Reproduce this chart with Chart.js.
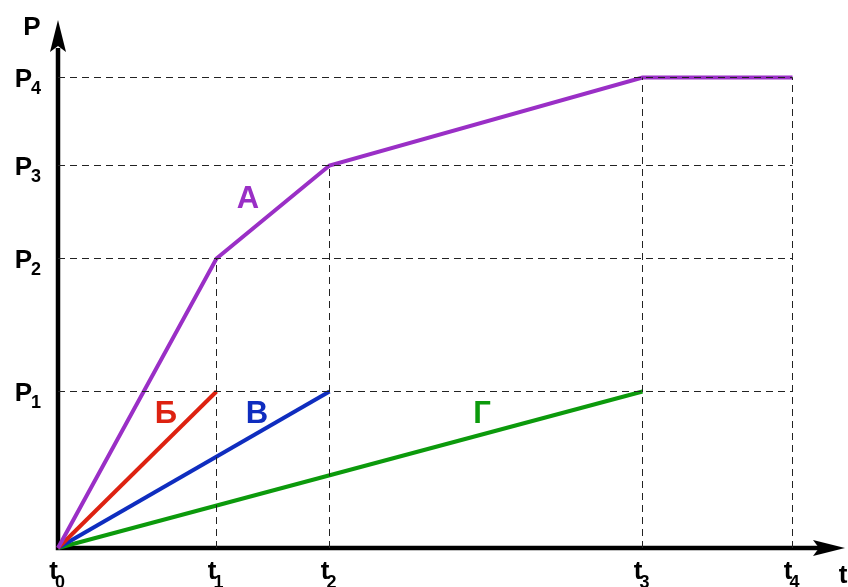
<!DOCTYPE html>
<html>
<head>
<meta charset="utf-8">
<script src="https://cdn.jsdelivr.net/npm/chart.js@4"></script>
<style>
  html, body { margin: 0; padding: 0; background: #ffffff; }
  #wrap { width: 848px; height: 587px; }
</style>
</head>
<body>
<div id="wrap"><canvas id="c" width="848" height="587"></canvas></div>
<script>
// ---- data ----
const tNames = ['t0', 't1', 't2', 't3', 't4'];
const tValues = [0, 1.585, 2.715, 5.845, 7.345];
const pNames = ['P1', 'P2', 'P3', 'P4'];
const pValues = [0, 1.565, 2.895, 3.825, 4.705];

const seriesNames = ['А', 'Б', 'В', 'Г'];
const seriesT = [[0, 1, 2, 3, 4], [0, 1], [0, 2], [0, 3]];
const seriesP = [[0, 2, 3, 4, 4], [0, 1], [0, 1], [0, 1]];
const seriesColors = ['#9A2FC6', '#DD2211', '#0F2DBF', '#0C9A0C'];

// vertical guide at t1..t4 rises to these P levels
const guideTopIdx = [2, 3, 4, 4];

const xMax = 7.87, yMax = 5.28;
const FONT = '"Liberation Sans", Arial, sans-serif';

// ---- datasets ----
const datasets = [];
seriesNames.forEach((name, s) => {
  datasets.push({
    label: name,
    data: seriesT[s].map((ti, k) => ({ x: tValues[ti], y: pValues[seriesP[s][k]] })),
    showLine: true,
    borderColor: seriesColors[s],
    backgroundColor: seriesColors[s],
    borderWidth: 4,
    pointRadius: 0,
    tension: 0,
    clip: false,
    order: 2
  });
});
const guideStyle = { showLine: true, borderColor: '#222222', borderWidth: 1, borderDash: [7, 5], pointRadius: 0, clip: false, order: 1 };
for (let i = 1; i < pValues.length; i++) {
  datasets.push(Object.assign({
    label: 'hP' + i,
    data: [{ x: tValues[0], y: pValues[i] }, { x: tValues[4], y: pValues[i] }]
  }, guideStyle));
}
for (let j = 1; j < tValues.length; j++) {
  datasets.push(Object.assign({
    label: 'vT' + j,
    data: [{ x: tValues[j], y: pValues[0] }, { x: tValues[j], y: pValues[guideTopIdx[j - 1]] }]
  }, guideStyle));
}

// series label anchors (data coordinates)
const seriesLabelAt = [[1.90, 3.50], [1.08, 1.35], [1.99, 1.35], [4.24, 1.35]];

const axesPlugin = {
  id: 'axesPlugin',
  beforeDatasetsDraw(chart) {
    const ctx = chart.ctx, xs = chart.scales.x, ys = chart.scales.y, a = chart.chartArea;
    const x0 = xs.getPixelForValue(0), y0 = ys.getPixelForValue(0);
    ctx.save();
    ctx.strokeStyle = '#000'; ctx.fillStyle = '#000'; ctx.lineWidth = 4.5;
    ctx.beginPath();
    ctx.moveTo(x0, y0 + 2.2); ctx.lineTo(x0, a.top + 28);
    ctx.moveTo(x0 - 2.2, y0); ctx.lineTo(a.right - 26, y0);
    ctx.stroke();
    // y arrow
    ctx.beginPath();
    ctx.moveTo(x0, a.top);
    ctx.lineTo(x0 - 8, a.top + 32);
    ctx.lineTo(x0, a.top + 26);
    ctx.lineTo(x0 + 8, a.top + 32);
    ctx.closePath(); ctx.fill();
    // x arrow
    ctx.beginPath();
    ctx.moveTo(a.right, y0);
    ctx.lineTo(a.right - 32, y0 - 8);
    ctx.lineTo(a.right - 26, y0);
    ctx.lineTo(a.right - 32, y0 + 8);
    ctx.closePath(); ctx.fill();
    ctx.restore();
  },
  afterDatasetsDraw(chart) {
    const ctx = chart.ctx, xs = chart.scales.x, ys = chart.scales.y;
    const y0 = ys.getPixelForValue(0);
    ctx.save();
    ctx.fillStyle = '#000';
    ctx.textBaseline = 'alphabetic';
    const big = 'bold 26px ' + FONT, small = 'bold 18px ' + FONT;
    // P tick labels
    pNames.forEach((nm, i) => {
      const y = ys.getPixelForValue(pValues[i + 1]);
      ctx.font = big; ctx.textAlign = 'right';
      ctx.fillText(nm.charAt(0), 32, y + 9);
      ctx.font = small; ctx.textAlign = 'left';
      ctx.fillText(nm.slice(1), 31, y + 16.5);
    });
    // t tick labels
    tNames.forEach((nm, j) => {
      const x = xs.getPixelForValue(tValues[j]);
      ctx.font = big; ctx.textAlign = 'right';
      ctx.fillText(nm.charAt(0), x, y0 + 31);
      ctx.font = small; ctx.textAlign = 'left';
      ctx.fillText(nm.slice(1), x - 3, y0 + 40);
    });
    // axis titles
    ctx.font = 'bold 26px ' + FONT; ctx.textAlign = 'center';
    ctx.fillText('P', 32, 35);
    ctx.fillText('t', 843, 583);
    // series labels
    ctx.font = 'bold 31px ' + FONT; ctx.textAlign = 'center'; ctx.textBaseline = 'middle';
    seriesNames.forEach((nm, s) => {
      ctx.fillStyle = seriesColors[s];
      ctx.fillText(nm, xs.getPixelForValue(seriesLabelAt[s][0]), ys.getPixelForValue(seriesLabelAt[s][1]) + 1);
    });
    ctx.restore();
  }
};

new Chart(document.getElementById('c'), {
  type: 'scatter',
  data: { datasets },
  options: {
    responsive: false,
    devicePixelRatio: 1,
    animation: false,
    layout: { padding: { left: 58, right: 3, top: 20, bottom: 39 } },
    scales: {
      x: { type: 'linear', min: 0, max: xMax, display: false },
      y: { type: 'linear', min: 0, max: yMax, display: false }
    },
    plugins: { legend: { display: false }, tooltip: { enabled: false } },
    events: []
  },
  plugins: [axesPlugin]
});
</script>
</body>
</html>
